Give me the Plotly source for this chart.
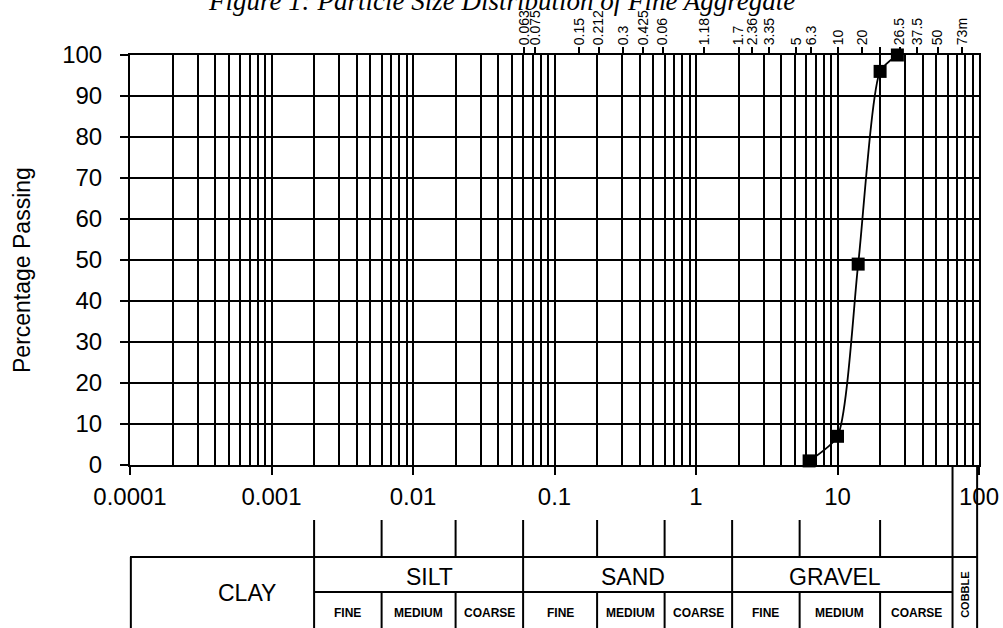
import math
import plotly.graph_objects as go

# ---------------- data ----------------
sieve_size_mm = [6.3, 10, 14, 20, 26.5]
percent_passing = [1, 7, 49, 96, 100]

x_tick_vals = [0.0001, 0.001, 0.01, 0.1, 1, 10, 100]
x_tick_text = ["0.0001", "0.001", "0.01", "0.1", "1", "10", "100"]
y_tick_vals = [0, 10, 20, 30, 40, 50, 60, 70, 80, 90, 100]

# top axis (sieve sizes) – positions
top_tick_pos = [0.061, 0.073, 0.149, 0.206, 0.305, 0.422, 0.584, 1.14, 2.0,
                2.49, 3.28, 5.09, 6.5, 10.1, 14.9, 20, 27.5, 36.5, 51, 76]
top_tick_text = ["0.063", "0.075", "0.15", "0.212", "0.3", "0.425", "0.06",
                 "1.18", "1.7", "2.36", "3.35", "5", "6.3", "10", "20", "",
                 "26.5", "37.5", "50", "73m"]

# classification table
group_names = ["CLAY", "SILT", "SAND", "GRAVEL"]
group_label_px = [247, 429, 633, 835]
main_bounds = [0.002, 0.06, 1.8]
sub_bounds = [0.006, 0.02, 0.2, 0.6, 5.4, 20]
sub_cells = [(0.002, 0.006), (0.006, 0.02), (0.02, 0.06),
             (0.06, 0.2), (0.2, 0.6), (0.6, 1.8),
             (1.8, 5.4), (5.4, 20), (20, 65)]
sub_names = ["FINE", "MEDIUM", "COARSE"] * 3
cobble_bounds = [65, 97]

# ---------------- geometry helpers ----------------
W, H = 1003, 628
L, R, T, B = 130, 24, 55, 163
PW, PH = W - L - R, H - T - B
XMIN, XMAX = -4, 2


def xp(v):
    return (math.log10(v) - XMIN) / (XMAX - XMIN)


def xpix(px):
    return (px - L) / PW


def yp(py):
    return (T + PH - py) / PH


FONT = "Liberation Sans, Arial, sans-serif"
minor_vals = [m * 10 ** e for e in range(-4, 2) for m in range(2, 10)]

fig = go.Figure()
fig.add_trace(go.Scatter(
    x=sieve_size_mm, y=percent_passing, mode="lines+markers",
    line=dict(color="black", width=1.8, shape="spline", smoothing=0.6),
    marker=dict(symbol="square", size=13, color="black"),
    cliponaxis=False, showlegend=False, hoverinfo="x+y"))
fig.add_trace(go.Scatter(x=[1e-4, 100], y=[0, 0], xaxis="x2", mode="none",
                         showlegend=False, hoverinfo="skip"))

fig.update_layout(
    width=W, height=H, margin=dict(l=L, r=R, t=T, b=B, autoexpand=False),
    paper_bgcolor="white", plot_bgcolor="white",
    xaxis=dict(type="log", range=[XMIN, XMAX], tickmode="array",
               tickvals=x_tick_vals, ticktext=x_tick_text,
               ticks="outside", ticklen=8, tickwidth=2, tickcolor="black",
               tickfont=dict(family=FONT, size=24, color="black"),
               ticklabelstandoff=1, automargin=False,
               showgrid=True, gridcolor="black", gridwidth=1.8,
               minor=dict(tickmode="array", tickvals=minor_vals,
                          showgrid=True, gridcolor="black", gridwidth=1.6,
                          ticks=""),
               showline=True, linecolor="black", linewidth=2,
               zeroline=False),
    xaxis2=dict(type="log", range=[XMIN, XMAX], overlaying="x", side="top",
                tickmode="array", tickvals=top_tick_pos, ticktext=top_tick_text,
                tickangle=-90, ticks="outside", ticklen=6, tickwidth=2,
                tickcolor="black", automargin=False, ticklabelstandoff=-1,
                tickfont=dict(family=FONT, size=14, color="black"),
                showgrid=False, showline=True, linecolor="black", linewidth=2,
                zeroline=False),
    yaxis=dict(range=[0, 100], tickmode="array", tickvals=y_tick_vals,
               ticks="outside", ticklen=8, tickwidth=2, tickcolor="black",
               tickfont=dict(family=FONT, size=24, color="black"),
               ticklabelstandoff=13, automargin=False,
               showgrid=True, gridcolor="black", gridwidth=2.2,
               showline=True, linecolor="black", linewidth=2, mirror=True,
               zeroline=False),
)

shapes = []
line = dict(color="black", width=2)
bottom = yp(H + 5)
# table borders
shapes.append(dict(type="line", xref="paper", yref="paper",
                   x0=xp(1e-4), x1=xp(cobble_bounds[1]), y0=yp(557), y1=yp(557), line=line))
shapes.append(dict(type="line", xref="paper", yref="paper",
                   x0=xp(main_bounds[0]), x1=xp(cobble_bounds[0]), y0=yp(592), y1=yp(592), line=line))
shapes.append(dict(type="line", xref="paper", yref="paper",
                   x0=xp(1e-4) + 0.001, x1=xp(1e-4) + 0.001, y0=yp(557), y1=bottom, line=line))
for v in main_bounds:
    shapes.append(dict(type="line", xref="paper", yref="paper",
                       x0=xp(v), x1=xp(v), y0=yp(520), y1=bottom, line=line))
for v in sub_bounds:
    shapes.append(dict(type="line", xref="paper", yref="paper",
                       x0=xp(v), x1=xp(v), y0=yp(520), y1=yp(557), line=line))
    shapes.append(dict(type="line", xref="paper", yref="paper",
                       x0=xp(v), x1=xp(v), y0=yp(592), y1=bottom, line=line))
for v in cobble_bounds:
    shapes.append(dict(type="line", xref="paper", yref="paper",
                       x0=xp(v), x1=xp(v), y0=yp(467), y1=bottom, line=line))
fig.update_layout(shapes=shapes)

ann = []
ann.append(dict(text="Figure 1: Particle Size Distribution of Fine Aggregate",
                xref="paper", yref="paper", x=xpix(501), y=yp(1),
                xanchor="center", yanchor="middle", showarrow=False,
                font=dict(family="Liberation Serif, Times New Roman, serif",
                          size=27, color="black", style="italic")))
ann.append(dict(text="Percentage Passing", xref="paper", yref="paper",
                x=xpix(22), y=yp(270), textangle=-90, showarrow=False,
                xanchor="center", yanchor="middle",
                font=dict(family=FONT, size=23, color="black")))
for name, px in zip(group_names, group_label_px):
    ann.append(dict(text=name, xref="paper", yref="paper", x=xpix(px),
                    y=yp(593 if name == "CLAY" else 577), showarrow=False,
                    xanchor="center", yanchor="middle",
                    font=dict(family=FONT, size=23, color="black")))
for name, (a, b) in zip(sub_names, sub_cells):
    ann.append(dict(text="<b>%s</b>" % name, xref="paper", yref="paper",
                    x=(xp(a) + xp(b)) / 2, y=yp(613), showarrow=False,
                    xanchor="center", yanchor="middle",
                    font=dict(family=FONT, size=12, color="black")))
ann.append(dict(text="<b>COBBLE</b>", xref="paper", yref="paper",
                x=(xp(cobble_bounds[0]) + xp(cobble_bounds[1])) / 2, y=yp(595),
                textangle=-90, showarrow=False, xanchor="center", yanchor="middle",
                font=dict(family=FONT, size=11, color="black")))
fig.update_layout(annotations=ann)

fig.write_html("out.html")
